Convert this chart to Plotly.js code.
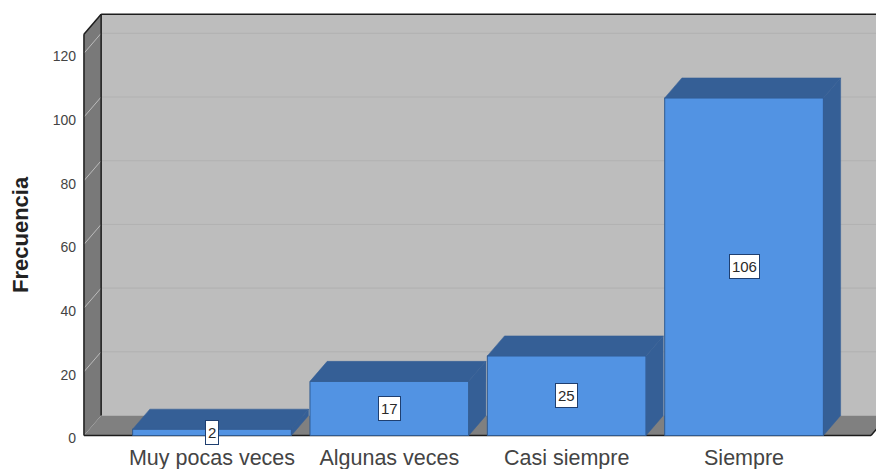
<!DOCTYPE html>
<html>
<head>
<meta charset="utf-8">
<script src="https://cdn.plot.ly/plotly-3.0.1.min.js"></script>
<style>html,body{margin:0;padding:0;background:#fff;overflow:hidden}</style>
</head>
<body>
<div id="chart" style="width:876px;height:469px"></div>
<script>
const categories = ["Muy pocas veces", "Algunas veces", "Casi siempre", "Siempre"];
const frequencies = [2, 17, 25, 106];
const yTicks = [0, 20, 40, 60, 80, 100, 120];
const yTitle = "Frecuencia";

const positions = categories.map((_, i) => i);
const barWidth = 0.895;
const depthX = 0.097, depthY = 6.28;
const wallLeft = -0.722, wallRight = 3.716, wallTop = 126;
const FONT = "Liberation Sans, Arial, sans-serif";
const FRONT = "#5293e3", FACE = "#355f96", EDGE = "#2f5a90";
const WALL = "#797979", FLOOR = "#808080", BACK = "#bdbdbd", DARK = "#1c1c1c";

function poly(xs, ys, color) {
  return {type: "scatter", mode: "lines", x: [...xs, xs[0]], y: [...ys, ys[0]], fill: "toself",
    fillcolor: color, line: {color: color, width: 0.5}, hoverinfo: "skip", showlegend: false};
}
const bars = {type: "bar", x: positions, y: frequencies, width: barWidth, showlegend: false,
  marker: {color: FRONT, line: {color: EDGE, width: 1}}, hoverinfo: "skip"};
const tops = positions.map((p, i) => {
  const l = p - barWidth / 2, r = p + barWidth / 2, v = frequencies[i];
  return poly([l, r, r + depthX, l + depthX], [v, v, v + depthY, v + depthY], FACE);
});
const sides = positions.map((p, i) => {
  const r = p + barWidth / 2, v = frequencies[i];
  return poly([r, r + depthX, r + depthX, r], [0, depthY, v + depthY, v], FACE);
});

function sh(path, fill) {
  return {type: "path", path, xref: "x", yref: "y", layer: "below", fillcolor: fill, line: {width: 0}};
}
function seg(x0, y0, x1, y1, color, w) {
  return {type: "line", x0, y0, x1, y1, xref: "x", yref: "y", layer: "below", line: {color, width: w}};
}
const bl = wallLeft + depthX, br = wallRight + depthX, bt = wallTop + depthY;
const shapes = [
  sh(`M${bl},${depthY} L${br},${depthY} L${br},${bt} L${bl},${bt} Z`, BACK),
  sh(`M${wallLeft},0 L${bl},${depthY} L${bl},${bt} L${wallLeft},${wallTop} Z`, WALL),
  sh(`M${wallLeft},0 L${wallRight},0 L${br},${depthY} L${bl},${depthY} Z`, FLOOR),
  ...yTicks.slice(1).map(t => seg(bl, t + depthY, br, t + depthY, "#b1b1b1", 1)),
  ...yTicks.slice(1).map(t => seg(wallLeft, t, bl, t + depthY, "#bcbcbc", 1)),
  seg(wallLeft, 0, wallLeft, wallTop, DARK, 1.5),
  seg(bl, depthY, bl, bt, DARK, 1.5),
  seg(wallLeft, wallTop, bl, bt, DARK, 1.5),
  seg(bl, bt, br, bt, DARK, 1.5),
  seg(wallLeft, 0, wallRight, 0, DARK, 1.5),
  seg(wallRight, 0, br, depthY, DARK, 1.5)
];

const annotations = positions.map((p, i) => {
  const label = String(frequencies[i]);
  return {
    x: p, y: frequencies[i] / 2, xref: "x", yref: "y", text: label, showarrow: false,
    width: 8.3 * label.length + 2, height: 21,
    font: {family: FONT, size: 15, color: "#2a2a2a"}, bgcolor: "#fff", bordercolor: "#1f3f70", borderwidth: 1, borderpad: 1
  };
});
annotations.push({
  xref: "paper", yref: "paper", x: 0, y: 0.5, xshift: -62, yshift: -10.5, textangle: -90, showarrow: false,
  xanchor: "center", text: "<b>" + yTitle + "</b>", font: {family: FONT, size: 22, color: "#222"}
});

const layout = {
  width: 876, height: 469, autosize: false,
  margin: {l: 82, r: 0, t: 12, b: 32, pad: 0},
  paper_bgcolor: "#fff", plot_bgcolor: "#fff", bargap: 0.1,
  xaxis: {type: "linear", range: [-0.733, 3.744], tickvals: positions, ticktext: categories, showgrid: false,
    zeroline: false, showline: false, ticks: "", ticklabelstandoff: 5, tickfont: {family: FONT, size: 21.5, color: "#444"}, fixedrange: true},
  yaxis: {type: "linear", range: [-0.47, 132.97], tickvals: yTicks, ticktext: yTicks.map(String), showgrid: false,
    zeroline: false, showline: false, ticks: "", ticklabelshift: 3, ticklabelstandoff: 5,
    tickfont: {family: FONT, size: 14, color: "#444"}, fixedrange: true},
  shapes, annotations
};
Plotly.newPlot("chart", [bars, ...sides, ...tops], layout, {displayModeBar: false, staticPlot: true});
</script>
</body>
</html>
